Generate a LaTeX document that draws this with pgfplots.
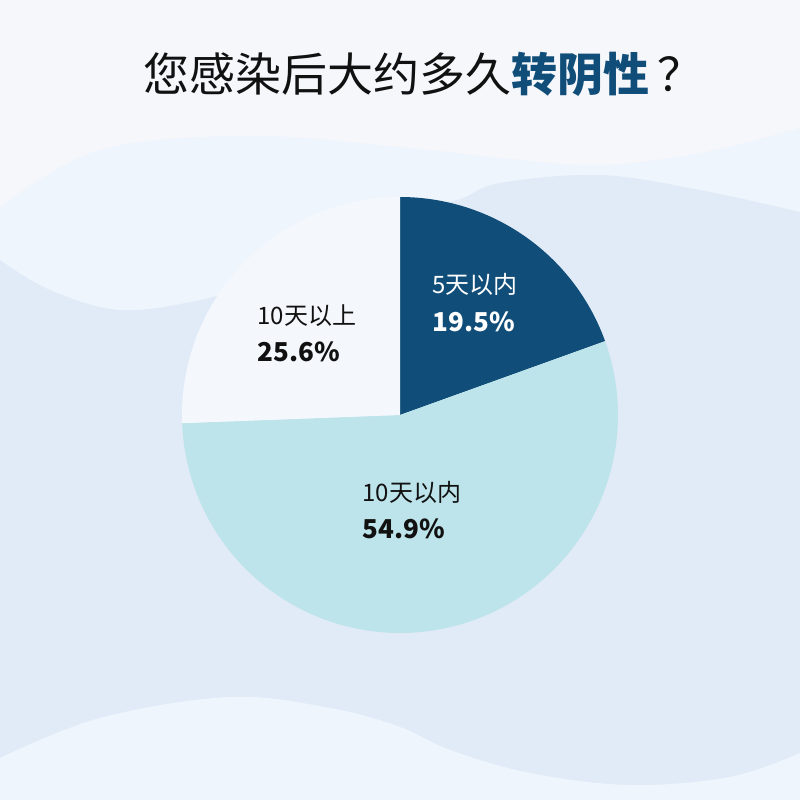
\documentclass[border=0pt]{standalone}
\usepackage{pgfplots}
\pgfplotsset{compat=1.18}
\usepackage{pgfplotstable}
\usepackage{fontspec}
\setmainfont{Noto Sans CJK SC}
\definecolor{bgbase}{HTML}{F5F7FB}
\definecolor{waveA}{HTML}{EEF5FC}
\definecolor{waveB}{HTML}{E1EBF7}
\definecolor{navy}{HTML}{104E79}
\definecolor{lblue}{HTML}{BDE4EA}
\definecolor{pale}{HTML}{F4F8FD}
\definecolor{ink}{HTML}{111111}
% shares (percent)
\pgfplotstableread{
label share
a 19.5
b 54.9
c 25.6
}\sharetable
\pgfplotstablegetelem{0}{share}\of\sharetable \let\sA\pgfplotsretval
\pgfplotstablegetelem{1}{share}\of\sharetable \let\sB\pgfplotsretval
\pgfplotstablegetelem{2}{share}\of\sharetable \let\sC\pgfplotsretval
\pgfmathsetmacro{\aA}{90}
\pgfmathsetmacro{\aB}{90-3.6*\sA}
\pgfmathsetmacro{\aC}{\aB-3.6*\sB}
\pgfmathsetmacro{\aD}{\aC-3.6*\sC}
\begin{document}
\begin{tikzpicture}
\begin{axis}[width=400pt,height=400pt,scale only axis,
  xmin=0,xmax=800,ymin=0,ymax=800,hide axis,clip=true]
% background
\addplot[fill=bgbase,draw=none] coordinates {(0,0) (800,0) (800,800) (0,800)} -- cycle;
\addplot[fill=waveA,draw=none,smooth,tension=0.6] coordinates {
 (0,593) (100,650) (250,664) (400,653) (500,642) (600,635) (700,647) (800,672)}
 -- (axis cs:800,0) -- (axis cs:0,0) -- cycle;
\addplot[fill=waveB,draw=none,smooth,tension=0.6] coordinates {
 (0,540) (50,510) (120,490) (200,500) (260,520) (330,560) (400,590) (457,600)
 (500,617) (600,625) (700,610) (800,588)}
 -- (axis cs:800,0) -- (axis cs:0,0) -- cycle;
\addplot[fill=waveA,draw=none,smooth,tension=0.6] coordinates {
 (0,42) (100,82) (230,103) (330,92) (400,73) (450,50) (530,27) (630,15) (730,23) (800,47)}
 -- (axis cs:800,0) -- (axis cs:0,0) -- cycle;
% pie
\addplot[fill=navy,draw=none,domain=\aB:\aA,samples=80]
 ({400+218*cos(x)},{385+218*sin(x)}) -- (axis cs:400,385) -- cycle;
\addplot[fill=lblue,draw=none,domain=\aC:\aB,samples=160]
 ({400+218*cos(x)},{385+218*sin(x)}) -- (axis cs:400,385) -- cycle;
\addplot[fill=pale,draw=none,domain=\aD:\aC,samples=80]
 ({400+218*cos(x)},{385+218*sin(x)}) -- (axis cs:400,385) -- cycle;
% labels
\node[anchor=base west,inner sep=0pt,text=white,font=\fontsize{12}{14}\selectfont] at (axis cs:432,506) {5天以内};
\node[anchor=base west,inner sep=0pt,text=white,font=\fontsize{13}{15}\selectfont\bfseries] at (axis cs:432,468) {\sA\%};
\node[anchor=base west,inner sep=0pt,text=ink,font=\fontsize{12}{14}\selectfont] at (axis cs:257,475) {10天以上};
\node[anchor=base west,inner sep=0pt,text=ink,font=\fontsize{13}{15}\selectfont\bfseries] at (axis cs:257,438) {\sC\%};
\node[anchor=base west,inner sep=0pt,text=ink,font=\fontsize{12}{14}\selectfont] at (axis cs:362,299) {10天以内};
\node[anchor=base west,inner sep=0pt,text=ink,font=\fontsize{13}{15}\selectfont\bfseries] at (axis cs:362,261) {\sB\%};
% title
\node[anchor=base west,inner sep=0pt,text=ink,font=\fontsize{23}{26}\selectfont] at (axis cs:143,708)
 {您感染后大约多久{\bfseries\color{navy}转阴性}\hspace{4pt}？};
\end{axis}
\end{tikzpicture}
\end{document}
